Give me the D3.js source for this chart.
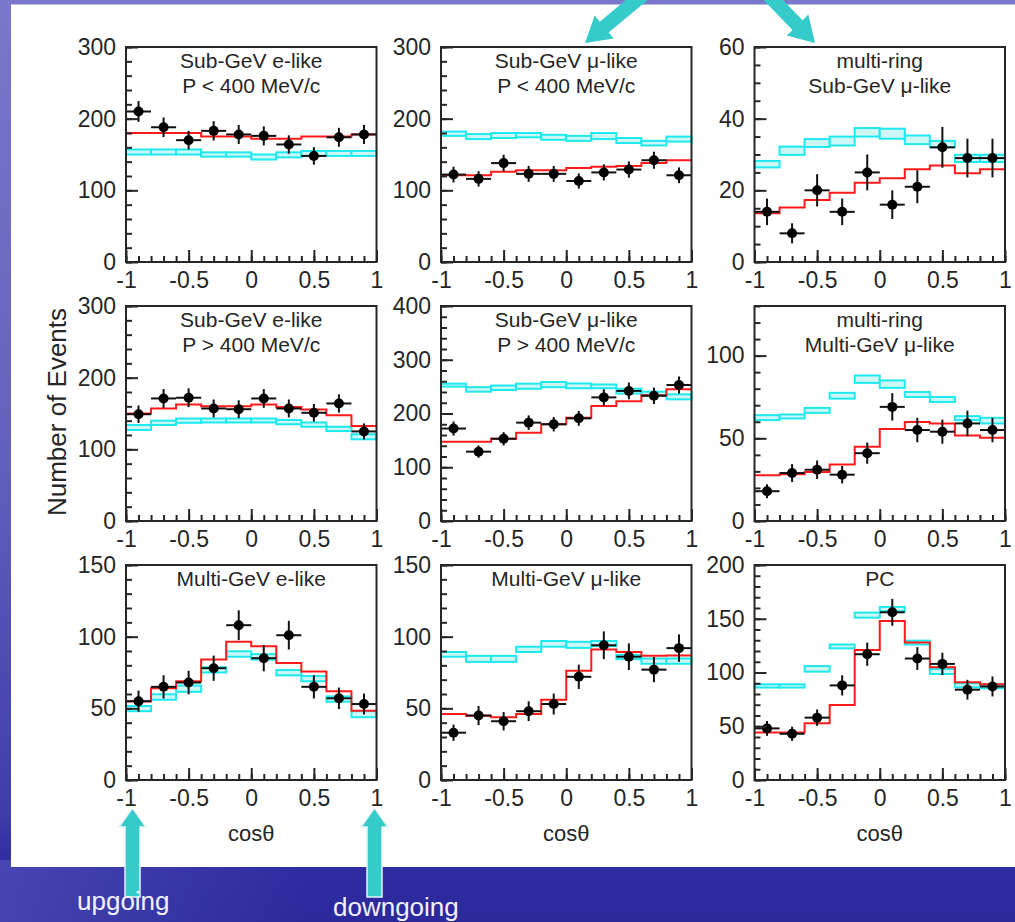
<!DOCTYPE html>
<html>
<head>
<meta charset="utf-8">
<script src="https://cdn.jsdelivr.net/npm/d3@7"></script>
<style>
  html, body { margin: 0; padding: 0; background: #2c2a9e; }
  svg { display: block; }
</style>
</head>
<body>
<script>
// Zenith-angle distributions: 10 bins in cos(theta) from -1 (upgoing) to +1 (downgoing)
const binEdges = [-1, -0.8, -0.6, -0.4, -0.2, 0, 0.2, 0.4, 0.6, 0.8, 1];
const binCentres = [-0.9, -0.7, -0.5, -0.3, -0.1, 0.1, 0.3, 0.5, 0.7, 0.9];
const xTickValues = [-1, -0.5, 0, 0.5, 1];
const xTickLabels = ["-1", "-0.5", "0", "0.5", "1"];

const panelTitles = [
  ["Sub-GeV e-like", "P < 400 MeV/c"],
  ["Sub-GeV \u03bc-like", "P < 400 MeV/c"],
  ["multi-ring", "Sub-GeV \u03bc-like"],
  ["Sub-GeV e-like", "P > 400 MeV/c"],
  ["Sub-GeV \u03bc-like", "P > 400 MeV/c"],
  ["multi-ring", "Multi-GeV \u03bc-like"],
  ["Multi-GeV e-like"],
  ["Multi-GeV \u03bc-like"],
  ["PC"]
];
const yMax = [300, 300, 60, 300, 400, 130, 150, 150, 200];
const yMajorStep = [100, 100, 20, 100, 100, 50, 50, 50, 50];
const yMinorStep = [20, 20, 5, 20, 20, 10, 10, 10, 10];

// Observed events per bin
const observed = [
  [210, 188, 170, 183, 178, 176, 164, 148, 174, 178],
  [122, 116, 138, 123, 123, 113, 125, 129, 142, 121],
  [14, 8, 20, 14, 25, 16, 21, 32, 29, 29],
  [149, 171, 172, 157, 156, 171, 157, 151, 164, 125],
  [172, 129, 153, 183, 180, 191, 230, 242, 233, 253],
  [18, 29, 31, 28, 41, 69, 55, 54, 59, 55],
  [55, 65, 68, 78, 108, 85, 101, 65, 57, 53],
  [33, 45, 41, 48, 53, 72, 94, 86, 77, 92],
  [48, 43, 58, 88, 117, 156, 113, 108, 84, 87]
];
// Statistical errors on the observed counts
const observedErr = [
  [14.5, 13.7, 13.0, 13.5, 13.3, 13.3, 12.8, 12.2, 13.2, 13.3],
  [11.0, 10.8, 11.7, 11.1, 11.1, 10.6, 11.2, 11.4, 11.9, 11.0],
  [3.7, 2.8, 4.5, 3.7, 5.0, 4.0, 4.6, 5.7, 5.4, 5.4],
  [12.2, 13.1, 13.1, 12.5, 12.5, 13.1, 12.5, 12.3, 12.8, 11.2],
  [13.1, 11.4, 12.4, 13.5, 13.4, 13.8, 15.2, 15.6, 15.3, 15.9],
  [4.2, 5.4, 5.6, 5.3, 6.4, 8.3, 7.4, 7.3, 7.7, 7.4],
  [7.4, 8.1, 8.2, 8.8, 10.4, 9.2, 10.0, 8.1, 7.5, 7.3],
  [5.7, 6.7, 6.4, 6.9, 7.3, 8.5, 9.7, 9.3, 8.8, 9.6],
  [6.9, 6.6, 7.6, 9.4, 10.8, 12.5, 10.6, 10.4, 9.2, 9.3]
];
// Expectation with oscillation (red histogram)
const oscillated = [
  [180, 180, 180, 175, 175, 172, 172, 175, 175, 178],
  [121, 121, 126, 128, 128, 131, 133, 134, 138, 142],
  [13.6, 15.2, 17.3, 19.3, 22.1, 23.4, 25.9, 26.9, 24.8, 25.9],
  [150, 157, 162.5, 160, 160, 162.5, 159, 155.5, 147.7, 132.5],
  [147.6, 147.6, 153, 164, 180, 192, 214, 223, 234, 245],
  [27.6, 28.2, 29.6, 34.2, 44.9, 55.7, 59.8, 59, 51.7, 50.3],
  [54.8, 64, 68.9, 84, 96.4, 93.4, 81.6, 75.7, 62, 48.4],
  [46, 44.8, 43.8, 46, 56, 76.2, 91, 89.3, 86.6, 86.8],
  [44.3, 44.3, 52.7, 69.8, 121, 148, 127.8, 104.8, 90.9, 89]
];
// Expectation without oscillation: lower / upper edge of the band (cyan boxes)
const noOscLow = [
  [150, 150, 150, 147, 147, 143, 146, 148, 148, 148],
  [176, 171.5, 173, 174, 170.5, 169, 171.5, 166, 162.6, 168],
  [26.4, 29.9, 32.1, 32.5, 35, 34.4, 32.9, 32, 27.9, 27.9],
  [127, 134, 137, 137.5, 137.5, 137.5, 135, 131.5, 125.5, 114],
  [250, 240.6, 243.7, 246, 249, 247, 247, 237, 233.8, 226.4],
  [61, 62, 65.4, 74, 83.5, 80.5, 75, 72, 61, 59],
  [48, 56, 61.5, 75, 86, 84, 73, 68.9, 54.6, 43.8],
  [86, 82.4, 82.4, 89.3, 93, 92.2, 93.4, 84.3, 81.1, 81.1],
  [86, 86, 100.8, 122.5, 151, 157, 126, 98.6, 86.2, 85.3]
];
const noOscHigh = [
  [157, 157, 157, 153, 153, 150, 153, 155, 155, 155],
  [182, 178.5, 180, 180, 177.5, 176, 180, 173, 169, 175],
  [28.2, 32.2, 34.3, 35, 37.4, 37.2, 35.3, 33.8, 29.9, 29.9],
  [134, 140, 143, 143, 143, 143, 141, 137.5, 131.5, 121],
  [255.5, 249, 252, 255.5, 258.6, 256, 254, 246, 240.6, 235.7],
  [64, 64.4, 68.4, 77.5, 88, 85, 78, 75, 63.4, 62.4],
  [51.6, 59.8, 65.9, 78.7, 89.8, 87.8, 76.7, 72.5, 58.3, 48],
  [89.3, 86.6, 86.6, 93, 97, 96.4, 97, 87.3, 84.8, 84.8],
  [89, 89, 106, 126, 155.7, 161, 129.6, 103.3, 90, 89]
];

const W = 1015, H = 922;
const FONT = "'Liberation Sans', Arial, Helvetica, sans-serif";
const colLeft = [126, 441, 754.5];
const rowTop = [47, 306, 565];
const frameW = 250.5, frameH = 215;
const INK = "#262626";
const TEAL = "#35cbcb";

const svg = d3.select("body").append("svg")
  .attr("width", W).attr("height", H)
  .style("font-family", FONT);

// Slide background
const defs = svg.append("defs");
const bg = defs.append("linearGradient").attr("id", "bgGrad")
  .attr("x1", 0).attr("y1", 0).attr("x2", 0).attr("y2", 1);
bg.append("stop").attr("offset", "0%").attr("stop-color", "#7a78cb");
bg.append("stop").attr("offset", "50%").attr("stop-color", "#6260bd");
bg.append("stop").attr("offset", "88%").attr("stop-color", "#3f3dab");
bg.append("stop").attr("offset", "94%").attr("stop-color", "#2e2ca0");
bg.append("stop").attr("offset", "100%").attr("stop-color", "#2b299c");
const bgSide = defs.append("linearGradient").attr("id", "bgSide")
  .attr("x1", 0).attr("y1", 0).attr("x2", 1).attr("y2", 0);
bgSide.append("stop").attr("offset", "0%").attr("stop-color", "#5a5ac0").attr("stop-opacity", 0.55);
bgSide.append("stop").attr("offset", "30%").attr("stop-color", "#5a5ac0").attr("stop-opacity", 0.0);

svg.append("rect").attr("width", W).attr("height", H).attr("fill", "url(#bgGrad)");
svg.append("rect").attr("y", 860).attr("width", W).attr("height", 62).attr("fill", "url(#bgSide)");

// White plot sheet
svg.append("rect").attr("x", 11).attr("y", 4.5).attr("width", W - 11).attr("height", 863 - 0.5)
  .attr("fill", "#ffffff");

function drawPanel(i) {
  const row = Math.floor(i / 3), col = i % 3;
  const x0 = colLeft[col], y0 = rowTop[row];
  const g = svg.append("g").attr("transform", `translate(${x0},${y0})`);

  const x = d3.scaleLinear().domain([-1, 1]).range([0, frameW]);
  const y = d3.scaleLinear().domain([0, yMax[i]]).range([frameH, 0]);

  // no-oscillation band
  g.append("g").selectAll("rect")
    .data(d3.range(10))
    .join("rect")
    .attr("x", k => x(binEdges[k]))
    .attr("width", k => x(binEdges[k + 1]) - x(binEdges[k]))
    .attr("y", k => y(noOscHigh[i][k]))
    .attr("height", k => y(noOscLow[i][k]) - y(noOscHigh[i][k]))
    .attr("fill", "#cdf7f7")
    .attr("stroke", "#1ee9ee")
    .attr("stroke-width", 2);

  // oscillated expectation as a step histogram
  const stepPts = oscillated[i].map((v, k) => [binEdges[k], v]);
  stepPts.push([binEdges[10], oscillated[i][9]]);
  g.append("path")
    .attr("d", d3.line().x(d => x(d[0])).y(d => y(d[1])).curve(d3.curveStepAfter)(stepPts))
    .attr("fill", "none")
    .attr("stroke", "#ff1a1a")
    .attr("stroke-width", 2);

  // data points with error bars
  const pts = g.append("g");
  observed[i].forEach((v, k) => {
    pts.append("line")
      .attr("x1", x(binEdges[k])).attr("x2", x(binEdges[k + 1]))
      .attr("y1", y(v)).attr("y2", y(v))
      .attr("stroke", "#111").attr("stroke-width", 2);
    pts.append("line")
      .attr("x1", x(binCentres[k])).attr("x2", x(binCentres[k]))
      .attr("y1", y(v - observedErr[i][k])).attr("y2", y(v + observedErr[i][k]))
      .attr("stroke", "#111").attr("stroke-width", 2);
    pts.append("circle")
      .attr("cx", x(binCentres[k])).attr("cy", y(v)).attr("r", 5)
      .attr("fill", "#000");
  });

  // axes with inward ticks
  const majorY = d3.range(0, yMax[i] + 1e-9, yMajorStep[i]);
  const minorY = d3.range(0, yMax[i] + 1e-9, yMinorStep[i]);
  const minorX = d3.range(-10, 11).map(v => v / 10);

  const yMinorAxis = d3.axisLeft(y).tickValues(minorY).tickSize(-6).tickFormat("");
  const yMajorAxis = d3.axisLeft(y).tickValues(majorY).tickSize(-12).tickPadding(10)
    .tickFormat(d3.format("d"));
  const xMinorAxis = d3.axisBottom(x).tickValues(minorX).tickSize(-6).tickFormat("");
  const xMajorAxis = d3.axisBottom(x).tickValues(xTickValues).tickSize(-12).tickPadding(10)
    .tickFormat((d, k) => xTickLabels[k]);

  const styleAxis = sel => {
    sel.select(".domain").remove();
    sel.selectAll("line").attr("stroke", INK).attr("stroke-width", 2);
    sel.selectAll("text").attr("fill", INK).style("font-size", "23px").style("font-family", FONT);
  };
  g.append("g").call(yMinorAxis).call(styleAxis);
  g.append("g").call(yMajorAxis).call(styleAxis);
  g.append("g").attr("transform", `translate(0,${frameH})`).call(xMinorAxis).call(styleAxis);
  g.append("g").attr("transform", `translate(0,${frameH})`).call(xMajorAxis).call(styleAxis);

  // frame
  g.append("rect").attr("width", frameW).attr("height", frameH)
    .attr("fill", "none").attr("stroke", INK).attr("stroke-width", 2);

  // panel title
  panelTitles[i].forEach((t, k) => {
    g.append("text")
      .attr("x", frameW / 2).attr("y", 21 + k * 25)
      .attr("text-anchor", "middle")
      .attr("fill", INK)
      .style("font-size", "21px")
      .text(t);
  });

  if (row === 2) {
    g.append("text")
      .attr("x", frameW / 2).attr("y", frameH + 61)
      .attr("text-anchor", "middle")
      .attr("fill", INK)
      .style("font-size", "22px")
      .text("cos\u03b8");
  }
}

d3.range(9).forEach(drawPanel);

// shared y-axis title
svg.append("text")
  .attr("transform", "translate(66,412) rotate(-90)")
  .attr("text-anchor", "middle")
  .attr("fill", INK)
  .style("font-size", "26px")
  .text("Number of Events");

// arrows: tip point, pointing direction, total length, head length, head half-width, shaft half-width
function arrow(tip, dir, length, headLen, headHalf, shaftHalf, outline) {
  const n = Math.hypot(dir[0], dir[1]);
  const u = [dir[0] / n, dir[1] / n];
  const p = [-u[1], u[0]];
  const base = [tip[0] - u[0] * headLen, tip[1] - u[1] * headLen];
  const tail = [tip[0] - u[0] * length, tip[1] - u[1] * length];
  const pt = (c, s) => [c[0] + p[0] * s, c[1] + p[1] * s];
  const poly = [
    tip, pt(base, headHalf), pt(base, shaftHalf), pt(tail, shaftHalf),
    pt(tail, -shaftHalf), pt(base, -shaftHalf), pt(base, -headHalf)
  ];
  svg.append("polygon")
    .attr("points", poly.map(q => q.join(",")).join(" "))
    .attr("fill", TEAL)
    .attr("stroke", outline ? "#e6f4f6" : "none")
    .attr("stroke-width", outline ? 1.5 : 0)
    .attr("stroke-linejoin", "miter");
}
arrow([585, 43], [-0.77, 0.64], 110, 25, 15, 7, false);
arrow([815, 43], [0.7, 0.72], 110, 25, 15, 7, false);
arrow([132.5, 808], [0, -1], 89, 19, 13.5, 7.5, true);
arrow([374.5, 808], [0, -1], 89, 19, 13.5, 7.5, true);

// direction labels
svg.append("text").attr("x", 77).attr("y", 910)
  .attr("fill", "#f2f2ff").style("font-size", "26px").text("upgoing");
svg.append("text").attr("x", 333).attr("y", 916)
  .attr("fill", "#f2f2ff").style("font-size", "26px").text("downgoing");
</script>
</body>
</html>
